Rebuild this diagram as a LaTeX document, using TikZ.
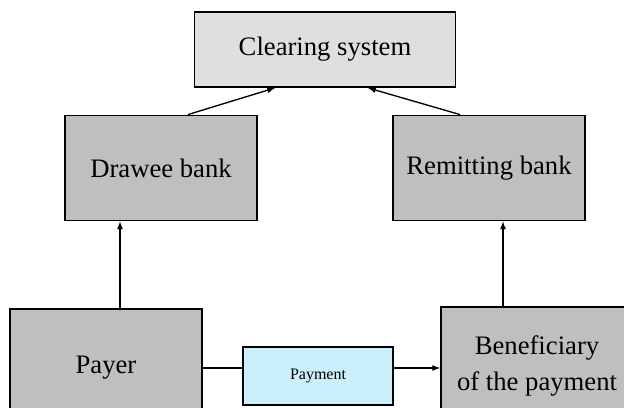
\documentclass[tikz,border=0pt]{standalone}
\usepackage{fontspec}
\setmainfont{Liberation Serif}
\tikzset{
  bankbox/.style={draw, line width=1.4pt, fill=gray!50, minimum width=144pt, align=center,
    font=\fontsize{20}{27}\selectfont},
}
\begin{document}
\begin{tikzpicture}[x=0.75pt, y=-0.75pt, >=latex]
			\useasboundingbox (0,0) rectangle (624,407);
			\node[draw, line width=1.4pt, fill=gray!25, minimum width=195.75pt, minimum height=56.25pt,
				font=\fontsize{20}{27}\selectfont] (clearing) at (325,49.5) {Clearing system};
			\node[bankbox, minimum height=78.75pt] (drawee) at (161,168) {Drawee bank};
			\node[bankbox, minimum height=78.75pt] (remitting) at (489,168) {Remitting bank};
			\node[bankbox, minimum height=88.5pt] (payer) at (106,368) {Payer};
			\node[bankbox, minimum height=88.5pt] (beneficiary) at (537,366) {Beneficiary\\of the payment};
			\node[draw, line width=1.4pt, fill=cyan!20, minimum width=112.5pt, minimum height=43.5pt,
				font=\fontsize{12}{14}\selectfont] (payment) at (318,376) {Payment};
			% payment flow
			\draw[line width=1pt] (payer.east) -- (payer.east -| payment.west);
			\draw[->, line width=1pt] (payment.east |- payer.east) -- (beneficiary.west |- payer.east);
			% banks
			\coordinate (up1) at ([xshift=10.5pt]payer.north);
			\coordinate (up2) at ([xshift=-25.5pt]beneficiary.north);
			\draw[->, line width=1pt] (up1) -- (up1 |- drawee.south);
			\draw[->, line width=1pt] (up2) -- (up2 |- remitting.south);
			\draw[->, line width=1pt] ([xshift=20.25pt]drawee.north) -- ([xshift=-37.5pt]clearing.south);
			\draw[->, line width=1pt] ([xshift=-21.75pt]remitting.north) -- ([xshift=32.25pt]clearing.south);
		\end{tikzpicture}
\end{document}
